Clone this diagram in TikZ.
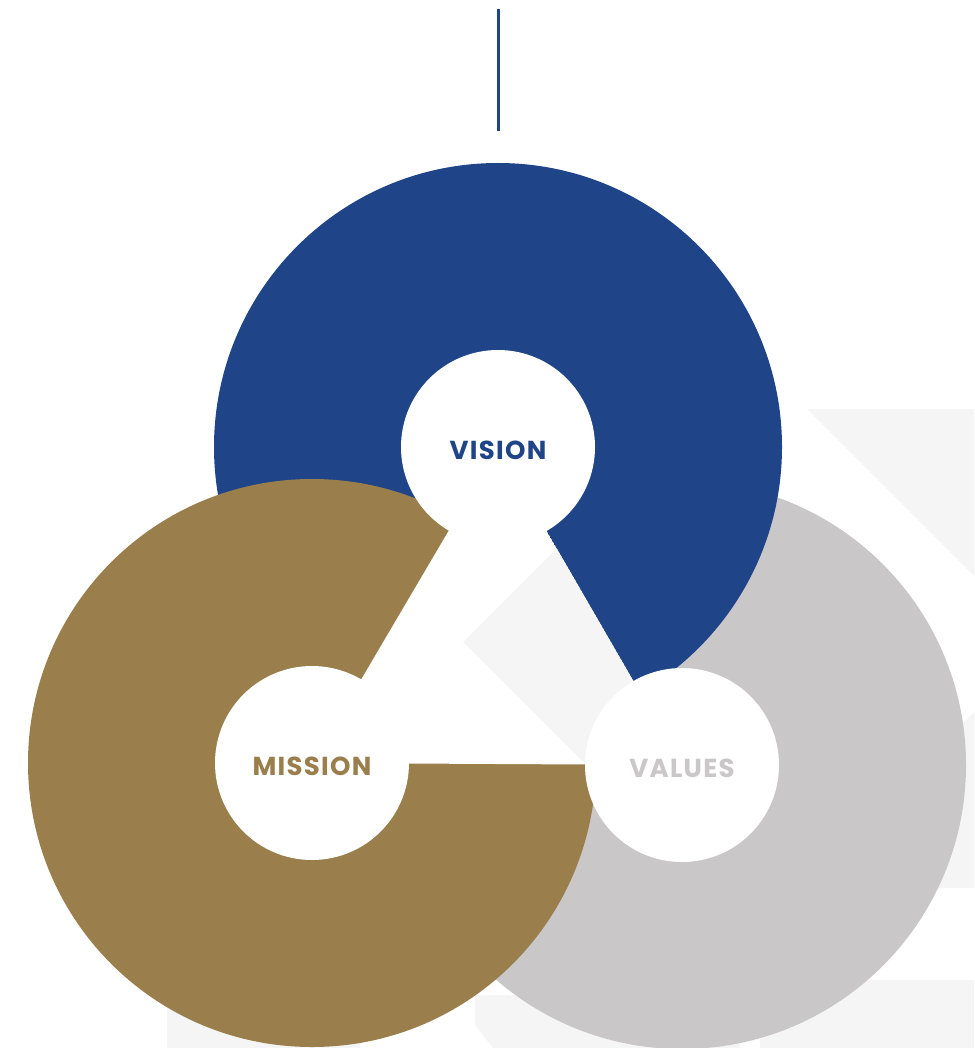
\documentclass[tikz,border=0pt]{standalone}
\usepackage{fontspec}
\newfontfamily\labelfont{Poppins}[LetterSpace=5]
\definecolor{visionblue}{HTML}{1F4488}
\definecolor{missiongold}{HTML}{9A7F4C}
\definecolor{valuesgrey}{HTML}{C9C7C8}
\definecolor{backshade}{HTML}{F5F5F5}

\begin{document}
\begin{tikzpicture}[x=1pt, y=-1pt,
                    ring/.style={circle, inner sep=0pt, minimum size=568pt},
                    hub/.style={circle, fill=white, inner sep=0pt, minimum size=194pt},
                    hub label/.style={font=\labelfont\fontsize{26}{26}\selectfont\bfseries, yshift=-3pt}]
    \useasboundingbox (0,0) rectangle (974,1048);

    % faint background pattern
    \fill[backshade] (807,409) -- (974,409) -- (974,576) -- cycle;
    \fill[backshade] (974,712) -- (920,766) -- (920,888) -- (974,888) -- cycle;
    \fill[backshade] (760,980) -- (974,980) -- (974,1048) -- (760,1048) -- cycle;
    \fill[backshade] (475,995) -- (740,995) -- (740,1048) -- (493,1048) -- (475,1025) -- cycle;
    \fill[backshade] (167,1005) -- (360,1005) -- (360,1048) -- (167,1048) -- cycle;

    % the three rings
    \node[ring, fill=valuesgrey]  (valuesring)  at (682,765) {};
    \node[ring, fill=visionblue]  (visionring)  at (498,447) {};
    \node[ring, fill=missiongold] (missionring) at (312,763) {};

    % centre cut
    \begin{scope}
        \clip (visionring.center) -- (missionring.center) -- (valuesring.center) -- cycle;
        \fill[white] (visionring.center) -- (missionring.center) -- (valuesring.center) -- cycle;
        \fill[backshade] (463,642) -- (700,405) -- (937,642) -- (700,879) -- cycle;
    \end{scope}

    % hubs
    \node[hub] (vision)  at (visionring)  {};
    \node[hub] (mission) at (missionring) {};
    \node[hub] (values)  at (valuesring)  {};
    \node[hub label, text=visionblue]  at (vision)  {VISION};
    \node[hub label, text=missiongold] at (mission) {MISSION};
    \node[hub label, text=valuesgrey]  at (values)  {VALUES};

    % top rule
    \coordinate (ruletop) at (498,9);
    \coordinate (rulebottom) at (498,131);
    \draw[visionblue, line width=3pt] (ruletop) -- (rulebottom);
\end{tikzpicture}
\end{document}
